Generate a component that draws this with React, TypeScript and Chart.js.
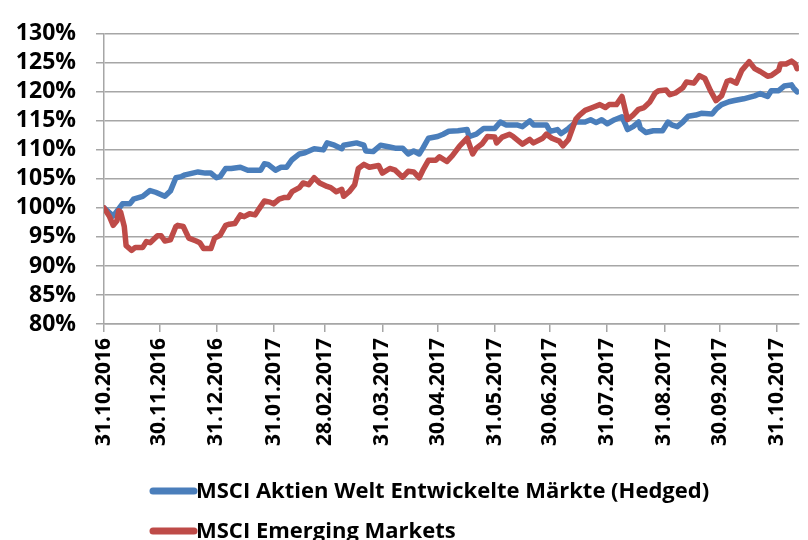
import React, { useEffect, useRef } from "react";
import { Chart, registerables } from "chart.js";

Chart.register(...registerables);

// Month-end tick labels of the date axis
const tickLabels = [
  "31.10.2016", "30.11.2016", "31.12.2016", "31.01.2017", "28.02.2017", "31.03.2017",
  "30.04.2017", "31.05.2017", "30.06.2017", "31.07.2017", "31.08.2017", "30.09.2017", "31.10.2017",
];

const seriesNames = [
  "MSCI Aktien Welt Entwickelte Märkte (Hedged)",
  "MSCI Emerging Markets",
];

// Days since 31.10.2016 and index level in %
const developedDays = [
  0, 5, 10, 14, 16, 21, 25, 28, 33, 36, 39, 42, 44, 51, 55, 58, 61, 63, 66, 69,
  74, 78, 85, 87, 89, 93, 96, 99, 102, 106, 109, 114, 119, 121, 125, 129, 130, 137, 141, 142,
  146, 150, 155, 158, 162, 165, 168, 171, 173, 176, 181, 184, 187, 192, 197, 198, 202, 206, 212, 215,
  218, 224, 227, 231, 233, 240, 242, 246, 248, 252, 256, 261, 264, 267, 270, 273, 277, 281, 283, 284,
  287, 290, 291, 294, 298, 303, 306, 308, 311, 314, 317, 321, 324, 330, 332, 335, 339, 342, 347, 353,
  356, 360, 362, 366, 369, 373, 374, 376,
];
const developedValues = [
  100, 98.6, 100.7, 100.7, 101.5, 102, 103, 102.7, 102, 102.9, 105.2, 105.4, 105.7, 106.2, 106, 106, 105.2, 105.4, 106.8, 106.8,
  107, 106.5, 106.5, 107.6, 107.5, 106.5, 107, 107, 108.3, 109.3, 109.5, 110.2, 110, 111.2, 110.8, 110.2, 110.8, 111.2, 110.8, 109.8,
  109.7, 110.8, 110.5, 110.3, 110.3, 109.3, 109.8, 109.3, 110.3, 112, 112.3, 112.7, 113.2, 113.3, 113.5, 112.3, 112.7, 113.7, 113.7, 114.8,
  114.3, 114.3, 114, 115, 114.3, 114.3, 113.2, 113.5, 112.8, 113.7, 114.8, 114.8, 115.2, 114.7, 115.2, 114.5, 115.2, 115.7, 114.3, 113.5,
  114, 114.8, 113.7, 113, 113.3, 113.3, 114.8, 114.3, 114, 114.8, 115.8, 116, 116.3, 116.2, 117, 117.8, 118.3, 118.5, 118.8, 119.3,
  119.7, 119.2, 120.2, 120.2, 121, 121.2, 120.7, 120,
];

const emergingDays = [
  0, 3, 5, 7, 8, 9, 11, 12, 15, 17, 21, 23, 25, 29, 31, 33, 36, 39, 40, 43,
  46, 50, 52, 54, 58, 60, 63, 66, 68, 71, 74, 76, 79, 82, 84, 87, 90, 92, 95, 98,
  100, 102, 106, 108, 111, 114, 117, 121, 123, 126, 129, 130, 133, 136, 138, 141, 144, 149, 151, 155,
  158, 162, 165, 168, 171, 173, 176, 180, 182, 186, 189, 193, 197, 200, 202, 205, 208, 212, 213, 216,
  220, 222, 227, 231, 233, 238, 240, 243, 247, 249, 252, 256, 258, 261, 265, 269, 272, 274, 278, 281,
  284, 287, 290, 293, 296, 299, 301, 305, 307, 310, 314, 316, 320, 323, 326, 329, 332, 335, 338, 340,
  343, 346, 350, 353, 356, 360, 362, 366, 367, 370, 373, 375, 376,
];
const emergingValues = [
  100, 98.5, 97, 97.8, 99.5, 99.3, 96.8, 93.5, 92.7, 93.2, 93.2, 94.2, 94, 95.2, 95.2, 94.3, 94.5, 96.8, 97, 96.8,
  94.8, 94.3, 94, 93, 93, 94.8, 95.3, 97, 97.2, 97.3, 98.8, 98.5, 99, 98.8, 99.8, 101.2, 101, 100.7, 101.5, 101.8,
  101.8, 102.8, 103.5, 104.3, 104, 105.2, 104.3, 103.7, 103.5, 102.8, 103.2, 102, 102.8, 104, 106.8, 107.5, 107, 107.3, 106, 106.8,
  106.5, 105.3, 106.3, 106.2, 105.2, 106.5, 108.2, 108.2, 108.8, 108, 109, 110.7, 112, 109.3, 110.3, 111, 112.3, 112.2, 111.2, 112.2,
  112.7, 112.3, 111, 111.8, 111.2, 112, 112.7, 112, 111.5, 110.7, 111.8, 115.3, 116, 116.8, 117.3, 117.8, 117.3, 117.8, 117.8, 119.2,
  115.2, 116, 117, 117.3, 118.2, 119.8, 120.2, 120.3, 119.5, 119.8, 120.7, 121.7, 121.5, 122.8, 122.3, 120.2, 118.5, 119.3, 121.8, 122,
  121.5, 123.7, 125.2, 124, 123.5, 122.7, 122.8, 123.7, 124.8, 124.8, 125.3, 124.8, 124,
];

const yMin = 80;
const yMax = 130;
const yStep = 5;
const xEndDay = 377;

function dayOf(label: string): number {
  const [d, m, y] = label.split(".").map(Number);
  const [d0, m0, y0] = tickLabels[0].split(".").map(Number);
  return Math.round((Date.UTC(y, m - 1, d) - Date.UTC(y0, m0 - 1, d0)) / 86400000);
}

const tickDays = tickLabels.map(dayOf);

const FONT = "'Open Sans', 'Liberation Sans', sans-serif";
const GRID = "#a6a6a6";

const excelLegend = {
  id: "excelLegend",
  afterDraw(chart: any) {
    const o = chart.options.plugins.excelLegend;
    const ctx = chart.ctx;
    chart.data.datasets.forEach((ds: any, i: number) => {
      const y = o.top + i * o.rowGap;
      ctx.save();
      ctx.strokeStyle = ds.borderColor;
      ctx.lineWidth = o.lineWidth;
      ctx.lineCap = "round";
      ctx.beginPath();
      ctx.moveTo(o.left, y);
      ctx.lineTo(o.left + o.lineLen, y);
      ctx.stroke();
      ctx.fillStyle = "#000";
      ctx.font = `bold ${o.fontSize}px ${FONT}`;
      ctx.textBaseline = "middle";
      ctx.textAlign = "left";
      ctx.fillText(ds.label, o.left + o.lineLen + o.gap, y + 1);
      ctx.restore();
    });
  },
};

export default function App() {
  const ref = useRef<HTMLCanvasElement | null>(null);

  useEffect(() => {
    if (!ref.current) return;
    const chart = new Chart(ref.current, {
      type: "line",
      data: {
        datasets: [
          {
            label: seriesNames[0],
            data: developedDays.map((d, i) => ({ x: d, y: developedValues[i] })),
            borderColor: "#4a7ebb",
            borderWidth: 5.5,
            pointRadius: 0,
            tension: 0,
            borderJoinStyle: "round",
            borderCapStyle: "round",
            order: 1,
          },
          {
            label: seriesNames[1],
            data: emergingDays.map((d, i) => ({ x: d, y: emergingValues[i] })),
            borderColor: "#be4b48",
            borderWidth: 5.5,
            pointRadius: 0,
            tension: 0,
            borderJoinStyle: "round",
            borderCapStyle: "round",
            order: 0,
          },
        ],
      },
      options: {
        responsive: false,
        animation: false,
        events: [],
        layout: { padding: { top: 24, bottom: 86, left: 0, right: 0 } },
        plugins: {
          legend: { display: false },
          tooltip: { enabled: false },
          excelLegend: {
            left: 153,
            lineLen: 41,
            gap: 2,
            top: 491,
            rowGap: 40,
            lineWidth: 7,
            fontSize: 22,
          },
        } as any,
        scales: {
          x: {
            type: "linear",
            min: 0,
            max: xEndDay,
            afterBuildTicks: (scale: any) => {
              scale.ticks = tickDays.map((v) => ({ value: v }));
            },
            afterFit: (scale: any) => {
              scale.height = 130;
            },
            ticks: {
              autoSkip: false,
              minRotation: 90,
              maxRotation: 90,
              padding: 6,
              color: "#000",
              font: { family: FONT, size: 21, weight: "bold" },
              callback: (v: any) => {
                const idx = tickDays.indexOf(Number(v));
                return idx >= 0 ? tickLabels[idx] : "";
              },
            },
            grid: {
              drawOnChartArea: false,
              drawTicks: true,
              tickLength: 8,
              color: GRID,
              lineWidth: 1.5,
            },
            border: { display: true, color: GRID, width: 1.5 },
          },
          y: {
            type: "linear",
            min: yMin,
            max: yMax,
            afterFit: (scale: any) => {
              scale.width = 104;
            },
            ticks: {
              stepSize: yStep,
              autoSkip: false,
              padding: 20,
              color: "#000",
              font: { family: FONT, size: 23, weight: "bold" },
              callback: (v: any) => `${v}%`,
            },
            grid: {
              color: GRID,
              lineWidth: 1.5,
              tickLength: 8,
              drawTicks: true,
            },
            border: { display: true, color: GRID, width: 1.5 },
          },
        },
      } as any,
      plugins: [excelLegend],
    });
    return () => chart.destroy();
  }, []);

  return (
    <div style={{ position: "absolute", left: 0, top: 0, width: 808, height: 540, background: "#fff" }}>
      <canvas ref={ref} width={808} height={540} />
    </div>
  );
}
